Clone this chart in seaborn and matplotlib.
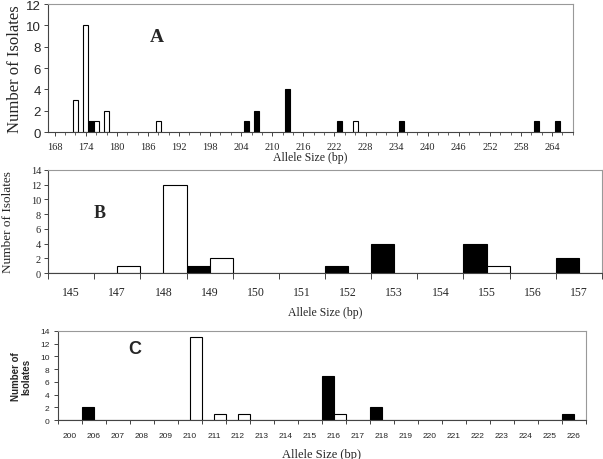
import pandas as pd
import matplotlib.pyplot as plt
import seaborn as sns
from matplotlib.ticker import MultipleLocator, FixedLocator

# Panel A: allele size (bp) vs number of isolates, open and filled bars
a_white_bp = [172, 174, 176, 178, 188, 226]
a_white_n = [3, 10, 1, 2, 1, 1]
a_black_bp = [175, 205, 207, 213, 223, 235, 261, 265]
a_black_n = [1, 1, 2, 4, 1, 1, 1, 1]
a_ticks = list(range(168, 265, 6))

# Panel B: categorical allele sizes
b_cats = ['145', '147', '148', '149', '150', '151', '152', '153', '154', '155', '156', '157']
b_black = [0, 0, 0, 1, 0, 0, 1, 4, 0, 4, 0, 2]
b_white = [0, 1, 12, 2, 0, 0, 0, 0, 0, 1, 0, 0]

# Panel C: categorical allele sizes
c_cats = ['200', '206', '207', '208', '209', '210', '211', '212', '213', '214', '215',
          '216', '217', '218', '219', '220', '221', '222', '223', '224', '225', '226']
c_black = [0, 2, 0, 0, 0, 0, 0, 0, 0, 0, 0, 7, 0, 2, 0, 0, 0, 0, 0, 0, 0, 1]
c_white = [0, 0, 0, 0, 0, 13, 1, 1, 0, 0, 0, 1, 0, 0, 0, 0, 0, 0, 0, 0, 0, 0]

sns.set_style('ticks')
SERIF = ['Liberation Serif', 'DejaVu Serif']
SANS = ['Liberation Sans', 'DejaVu Sans']
plt.rcParams['font.family'] = SERIF

pal = {'black': 'black', 'white': 'white'}
W = 603
H = 460


def px_axes(fig, x0, y0, x1, y1):
    return fig.add_axes([x0 / W, 1 - y1 / H, (x1 - x0) / W, (y1 - y0) / H])


def px_text(fig, x, y, s, **kw):
    fig.text(x / W, 1 - y / H, s, ha='center', va='center', **kw)


def frame(ax):
    for s in ['left', 'bottom']:
        ax.spines[s].set_color('#444444')
        ax.spines[s].set_linewidth(0.8)
    for s in ['top', 'right']:
        ax.spines[s].set_visible(True)
        ax.spines[s].set_color('#999999')
        ax.spines[s].set_linewidth(0.8)


fig = plt.figure(figsize=(6.03, 4.60), dpi=100)

# ---------- A ----------
dfA = pd.DataFrame({
    'bp': a_white_bp + a_black_bp,
    'n': a_white_n + a_black_n,
    'type': ['white'] * len(a_white_bp) + ['black'] * len(a_black_bp),
})
axA = px_axes(fig, 48, 5, 573, 133)
sns.barplot(data=dfA, x='bp', y='n', hue='type', hue_order=['black', 'white'],
            palette=pal, native_scale=True, dodge=False, width=1, errorbar=None,
            edgecolor='black', linewidth=0.8, legend=False, ax=axA)
axA.set_xlim(166.7, 268.05)
axA.set_ylim(0, 12)
axA.yaxis.set_major_locator(MultipleLocator(2))
axA.xaxis.set_major_locator(FixedLocator(a_ticks))
axA.xaxis.set_minor_locator(MultipleLocator(2))
axA.set_xticklabels([str(t) for t in a_ticks], fontsize=7.5)
for lab in axA.get_yticklabels():
    lab.set_fontfamily(SANS)
    lab.set_fontsize(9.5)
axA.tick_params(axis='x', which='major', length=3, width=0.6, pad=4)
axA.tick_params(axis='x', which='minor', length=2, width=0.5)
axA.tick_params(axis='y', length=3, width=0.6, pad=2)
axA.set_xlabel('Allele Size (bp)', fontsize=8.5, labelpad=0)
axA.set_ylabel('Number of Isolates', fontsize=12, labelpad=2)
px_text(fig, 157, 37, 'A', fontsize=14, fontweight='bold')
frame(axA)

# ---------- B ----------
dfB = pd.DataFrame({
    'size': b_cats + b_cats,
    'n': b_black + b_white,
    'type': ['black'] * len(b_cats) + ['white'] * len(b_cats),
})
axB = px_axes(fig, 48, 171, 602, 274)
sns.barplot(data=dfB, x='size', y='n', hue='type', hue_order=['black', 'white'],
            order=b_cats, palette=pal, width=1, errorbar=None,
            edgecolor='black', linewidth=0.8, legend=False, ax=axB)
axB.set_xlim(-0.5, len(b_cats) - 0.5)
axB.set_ylim(0, 14)
axB.yaxis.set_major_locator(MultipleLocator(2))
axB.xaxis.set_minor_locator(FixedLocator([i - 0.5 for i in range(len(b_cats) + 1)]))
axB.tick_params(axis='x', which='major', length=0, pad=9, labelsize=8.5)
axB.tick_params(axis='x', which='minor', length=4, width=0.6)
axB.tick_params(axis='y', length=3, width=0.6, pad=2, labelsize=7.5)
axB.set_xlabel('Allele Size (bp)', fontsize=8.5, labelpad=6)
axB.set_ylabel('Number of Isolates', fontsize=9.5, labelpad=12)
px_text(fig, 100, 214, 'B', fontsize=13, fontweight='bold')
frame(axB)

# ---------- C ----------
dfC = pd.DataFrame({
    'size': c_cats + c_cats,
    'n': c_black + c_white,
    'type': ['black'] * len(c_cats) + ['white'] * len(c_cats),
})
axC = px_axes(fig, 58, 332, 586, 421)
sns.barplot(data=dfC, x='size', y='n', hue='type', hue_order=['black', 'white'],
            order=c_cats, palette=pal, width=1, errorbar=None,
            edgecolor='black', linewidth=0.8, legend=False, ax=axC)
axC.set_xlim(-0.5, len(c_cats) - 0.5)
axC.set_ylim(0, 14)
axC.yaxis.set_major_locator(MultipleLocator(2))
axC.xaxis.set_minor_locator(FixedLocator([i - 0.5 for i in range(len(c_cats) + 1)]))
axC.tick_params(axis='x', which='major', length=0, pad=9, labelsize=6)
axC.tick_params(axis='x', which='minor', length=3, width=0.6)
axC.tick_params(axis='y', length=3, width=0.6, pad=3, labelsize=6)
for lab in axC.get_xticklabels() + axC.get_yticklabels():
    lab.set_fontfamily(SANS)
axC.set_xlabel('Allele Size (bp)', fontsize=9, labelpad=6)
axC.set_ylabel('Number of\nIsolates', fontsize=7, fontweight='bold',
               family=SANS, labelpad=6, linespacing=1.1)
px_text(fig, 135, 350, 'C', fontsize=13, fontweight='bold', family=SANS)
frame(axC)

fig.savefig('out.png', dpi=100)
